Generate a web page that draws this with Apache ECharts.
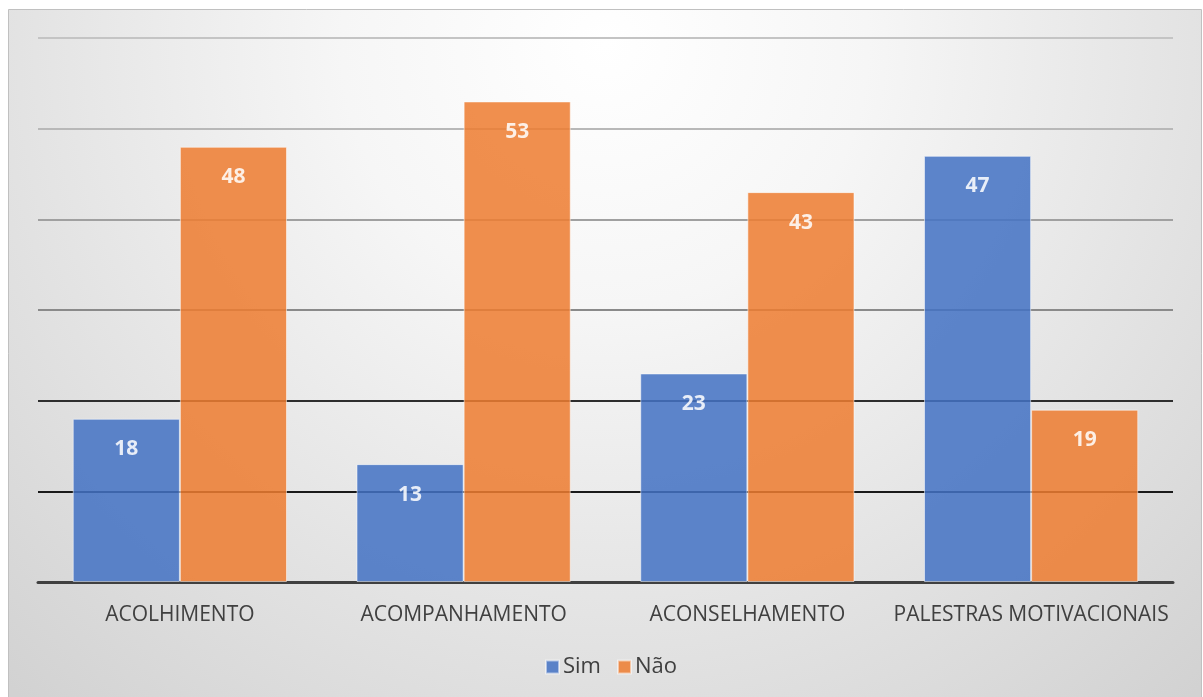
<!DOCTYPE html>
<html>
<head>
<meta charset="utf-8">
<script src="https://cdn.jsdelivr.net/npm/echarts@6/dist/echarts.min.js"></script>
<style>
html,body{margin:0;padding:0;background:#fff;}
#chart{width:1203px;height:697px;}
</style>
</head>
<body>
<div id="chart"></div>
<script>
const categories = ['ACOLHIMENTO', 'ACOMPANHAMENTO', 'ACONSELHAMENTO', 'PALESTRAS MOTIVACIONAIS'];
const simValues = [18, 13, 23, 47];
const naoValues = [48, 53, 43, 19];
const seriesNames = ['Sim', 'Não'];

const chart = echarts.init(document.getElementById('chart'));
const font = '"Open Sans", "Noto Sans", sans-serif';

const labelCfg = {
  show: true, position: 'insideTop', distance: 20,
  color: '#ffffff', fontWeight: 'bold', fontSize: 21, fontFamily: font
};

chart.setOption({
  backgroundColor: '#ffffff',
  animation: false,
  graphic: [{
    type: 'rect', z: -100, silent: true,
    shape: {x: 8.5, y: 9.5, width: 1193, height: 700},
    style: {
      fill: {type: 'radial', x: 0.5, y: 0.05, r: 1.25,
        colorStops: [{offset: 0, color: '#ffffff'}, {offset: 0.3, color: '#f6f6f6'}, {offset: 1, color: '#d2d2d2'}]},
      stroke: '#c0c0c0', lineWidth: 1
    }
  }],
  grid: {left: 38, right: 30, top: 38, bottom: 115},
  legend: {
    data: seriesNames, top: 651, left: 540,
    icon: 'rect', itemWidth: 13, itemHeight: 13, itemGap: 16,
    textStyle: {fontFamily: font, fontSize: 22, color: '#404040', padding: [0, 0, 0, -1]}
  },
  xAxis: {
    type: 'category', data: categories,
    axisLine: {show: true, lineStyle: {color: '#404040', width: 3}},
    axisTick: {show: false},
    axisLabel: {interval: 0, fontFamily: font, fontSize: 21, color: '#404040', margin: 23}
  },
  yAxis: {
    type: 'value', min: 0, max: 60, interval: 10,
    axisLine: {show: false}, axisTick: {show: false}, axisLabel: {show: false},
    splitLine: {show: true, lineStyle: {width: 2,
      color: ['#404040', '#1a1a1a', '#2e2e2e', '#8a8a8a', '#a0a0a0', '#b8b8b8', '#c4c4c4']}}
  },
  series: [
    {name: seriesNames[0], type: 'bar', data: simValues, barGap: '0%', barCategoryGap: '24.5%',
      itemStyle: {color: '#4472C4', opacity: 0.86, borderColor: 'rgba(255,255,255,0.6)', borderWidth: 1},
      label: labelCfg},
    {name: seriesNames[1], type: 'bar', data: naoValues, barGap: '0%', barCategoryGap: '24.5%',
      itemStyle: {color: '#ED7D31', opacity: 0.86, borderColor: 'rgba(255,255,255,0.6)', borderWidth: 1},
      label: labelCfg}
  ]
});
</script>
</body>
</html>
